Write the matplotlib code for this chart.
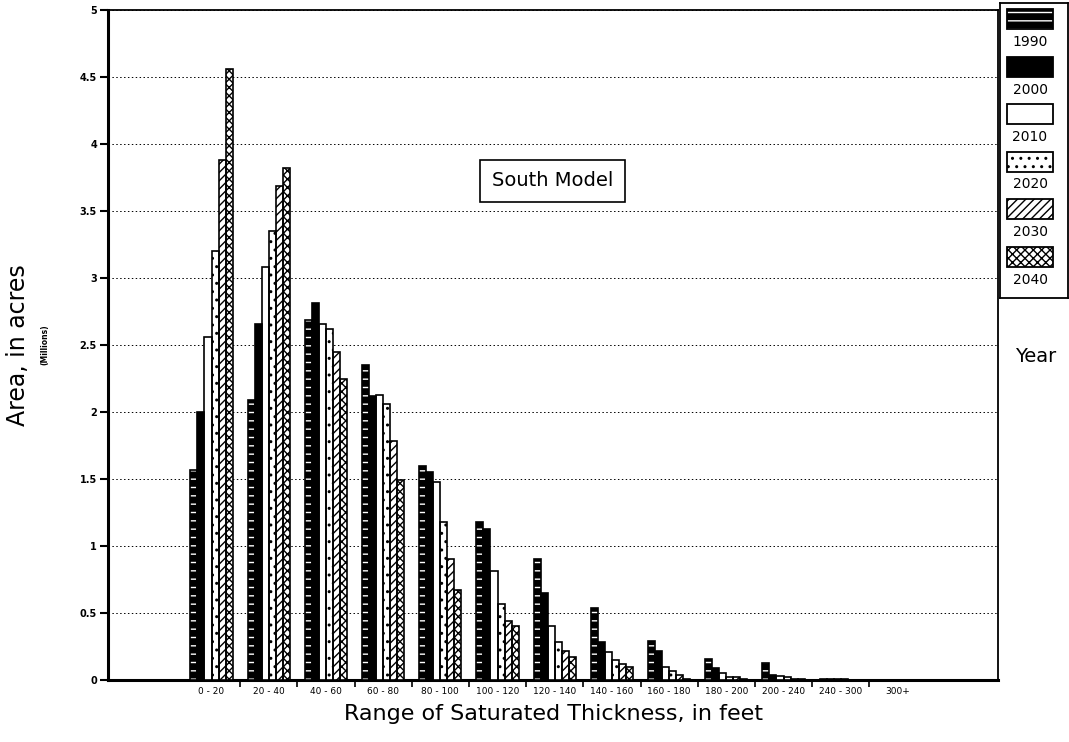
import numpy as np
import matplotlib
matplotlib.use("Agg")
import matplotlib.pyplot as plt
from matplotlib.patches import Rectangle

# Area by range of saturated thickness, millions of acres
ranges = ["0 - 20", "20 - 40", "40 - 60", "60 - 80", "80 - 100", "100 - 120",
          "120 - 140", "140 - 160", "160 - 180", "180 - 200", "200 - 240",
          "240 - 300", "300+"]
years = ["1990", "2000", "2010", "2020", "2030", "2040"]

area_1990 = [1.57, 2.09, 2.69, 2.35, 1.60, 1.18, 0.90, 0.54, 0.29, 0.16, 0.13, 0.006, 0.002]
area_2000 = [2.00, 2.66, 2.81, 2.12, 1.55, 1.13, 0.65, 0.28, 0.22, 0.09, 0.04, 0.005, 0.002]
area_2010 = [2.56, 3.08, 2.66, 2.13, 1.48, 0.81, 0.40, 0.21, 0.10, 0.05, 0.03, 0.004, 0.001]
area_2020 = [3.20, 3.35, 2.62, 2.06, 1.18, 0.565, 0.28, 0.15, 0.07, 0.02, 0.02, 0.004, 0.001]
area_2030 = [3.88, 3.69, 2.45, 1.78, 0.90, 0.44, 0.22, 0.12, 0.04, 0.02, 0.01, 0.003, 0.001]
area_2040 = [4.56, 3.82, 2.25, 1.49, 0.67, 0.40, 0.17, 0.10, 0.01, 0.01, 0.01, 0.003, 0.001]

series = [area_1990, area_2000, area_2010, area_2020, area_2030, area_2040]
# (face, hatch colour, hatch)
styles = [("black", "white", "--"),
          ("black", "black", None),
          ("white", "black", None),
          ("white", "black", ".."),
          ("white", "black", "////"),
          ("white", "black", "xxxx")]

fig = plt.figure(figsize=(10.69, 7.42), dpi=100)
ax = fig.add_axes([108/1069, 1-680/742, 890/1069, 670/742])

x = np.arange(len(ranges))
w = 0.123
for i, (vals, (fc, hc, hatch)) in enumerate(zip(series, styles)):
    pos = x + (i - 2.5) * w
    ax.bar(pos, vals, w, facecolor=fc, edgecolor=hc, hatch=hatch, linewidth=0, zorder=3)
    ax.bar(pos, vals, w, fill=False, edgecolor="black", linewidth=1.2, zorder=4)

ax.set_xlim(-1.81, 13.75)
ax.set_ylim(0, 5)
ax.set_yticks(np.arange(0, 5.01, 0.5))
ax.set_yticklabels(["0", "0.5", "1", "1.5", "2", "2.5", "3", "3.5", "4", "4.5", "5"],
                   fontsize=7, fontweight="bold")
ax.yaxis.grid(True, linestyle=(0, (1.5, 2.5)), color="black", linewidth=0.7)
ax.set_axisbelow(True)

ax.set_xticks(x)
ax.set_xticklabels(ranges, fontsize=6.5)
ax.tick_params(axis="x", length=0, pad=5)
ax.set_xticks(np.arange(0.5, 12, 1), minor=True)
ax.tick_params(axis="x", which="minor", length=5, width=1.2, direction="out")
ax.tick_params(axis="y", length=6, width=1.5, direction="out", pad=2)
for s in ax.spines.values():
    s.set_linewidth(1.3)
ax.spines["left"].set_linewidth(2.2)
ax.spines["bottom"].set_linewidth(2.2)

ax.set_xlabel("Range of Saturated Thickness, in feet", fontsize=16, labelpad=6)
fig.text(18/1069, 1-345/742, "Area, in acres", rotation=90, fontsize=17,
         ha="center", va="center")
fig.text(45/1069, 1-345/742, "(Millions)", rotation=90, fontsize=5.5,
         ha="center", va="center", fontweight="bold")

ax.text(0.4997, 0.745, "South Model", transform=ax.transAxes, fontsize=14,
        ha="center", va="center", zorder=6,
        bbox=dict(boxstyle="square,pad=0.6", facecolor="white", edgecolor="black", lw=1.2))

# legend drawn by hand, in pixel units
lax = fig.add_axes([1000/1069, 1-298/742, 68/1069, 295/742])
lax.set_xlim(0, 68)
lax.set_ylim(295, 0)
lax.set_xticks([])
lax.set_yticks([])
for s in lax.spines.values():
    s.set_linewidth(1.3)
for i, (yr, (fc, hc, hatch)) in enumerate(zip(years, styles)):
    top = 6 + i * 47.5
    lax.add_patch(Rectangle((7, top), 46, 20, facecolor=fc, edgecolor=hc,
                            hatch=hatch, linewidth=0))
    lax.add_patch(Rectangle((7, top), 46, 20, fill=False, edgecolor="black", linewidth=1.3))
    lax.text(30, top + 33, yr, fontsize=10, ha="center", va="center")

fig.text(1036/1069, 1-357/742, "Year", fontsize=14, ha="center", va="center")

fig.savefig("out.png", dpi=100)
